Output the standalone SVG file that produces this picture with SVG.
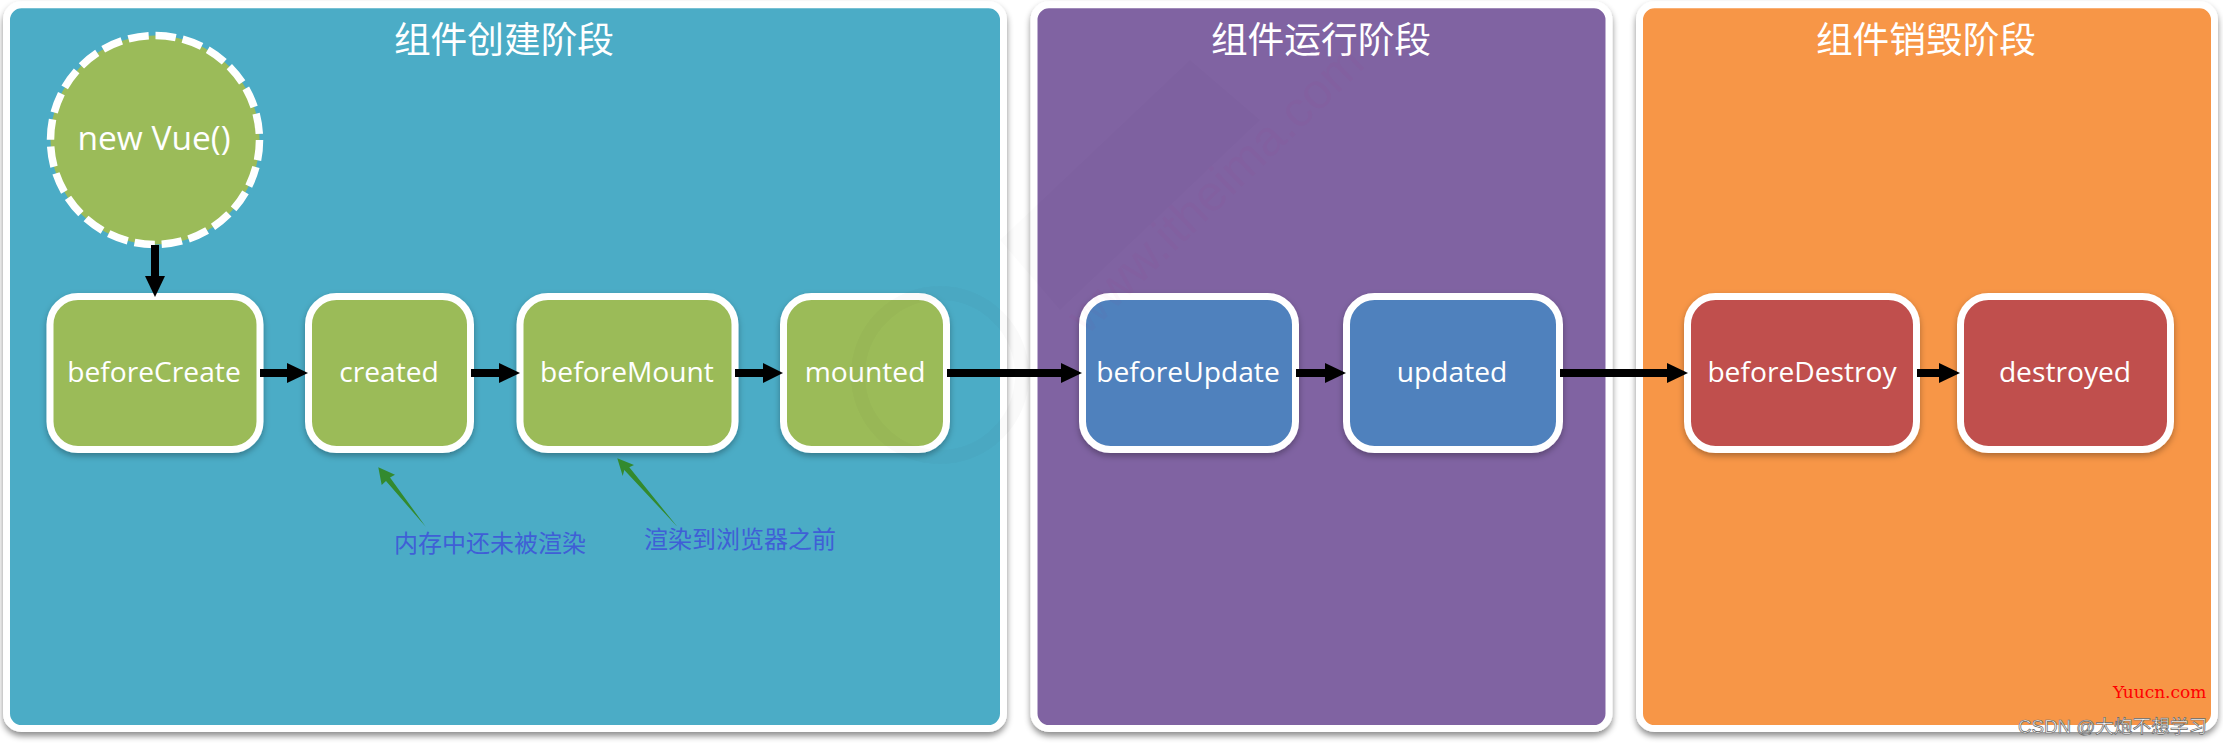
<svg xmlns="http://www.w3.org/2000/svg" width="2223" height="747" viewBox="0 0 2223 747">
<style>
.panel{stroke:#fff;stroke-width:7;filter:url(#ps)}
.node{stroke:#fff;stroke-width:7;filter:url(#ns)}
.t{font-family:"Open Sans","Noto Sans",sans-serif;font-size:28.200px;fill:#fff;text-anchor:middle}
.title{font-family:"Noto Sans CJK SC",sans-serif;font-size:36.700px;fill:#fff;text-anchor:middle}
.note{font-family:"Noto Sans CJK SC",sans-serif;font-size:24px;fill:#3f5fd6}
.g{fill:#9bbb59}.b{fill:#4f81bd}.r{fill:#c0504d}
.c{stroke:#000;stroke-width:8;fill:none}
.h{fill:#000}
.ga{fill:#338a2e}
</style>
<defs>
<filter id="ps" x="-3%" y="-3%" width="106%" height="106%"><feDropShadow dx="0" dy="4" stdDeviation="3" flood-color="#000" flood-opacity=".45"/></filter>
<filter id="ns" x="-10%" y="-10%" width="120%" height="120%"><feDropShadow dx="0" dy="3" stdDeviation="3" flood-color="#000" flood-opacity=".3"/></filter>
</defs>
<rect width="2223" height="747" fill="#fff"/>
<g id="panel-create"><rect class="panel" x="6.500" y="4.800" width="997" height="723.700" rx="15" fill="#4bacc6"/><text class="title" x="504" y="53">组件创建阶段</text></g>
<g id="panel-run"><rect class="panel" x="1034" y="4.800" width="575" height="723.700" rx="15" fill="#8064a2"/><text class="title" x="1321" y="53">组件运行阶段</text></g>
<g id="panel-destroy"><rect class="panel" x="1639.500" y="4.800" width="575" height="723.700" rx="15" fill="#f79646"/><text class="title" x="1926" y="53">组件销毁阶段</text></g>
<g id="new-vue"><circle cx="155" cy="140" r="104.500" fill="#9bbb59" stroke="#fff" stroke-width="7.500" stroke-dasharray="20.400 6.960"/><text class="t" x="154" y="150" style="font-size:33.500px">new Vue()</text></g>
<g id="beforeCreate"><rect class="node g" x="50" y="296.500" width="210" height="153" rx="28"/><text class="t" x="154" y="382">beforeCreate</text></g>
<g id="created"><rect class="node g" x="308.500" y="296.500" width="162" height="153" rx="28"/><text class="t" x="389" y="382">created</text></g>
<g id="beforeMount"><rect class="node g" x="520" y="296.500" width="215" height="153" rx="28"/><text class="t" x="627" y="382">beforeMount</text></g>
<g id="mounted"><rect class="node g" x="783.500" y="296.500" width="163" height="153" rx="28"/><text class="t" x="865" y="382">mounted</text></g>
<g id="beforeUpdate"><rect class="node b" x="1082.500" y="296.500" width="213" height="153" rx="28"/><text class="t" x="1188" y="382">beforeUpdate</text></g>
<g id="updated"><rect class="node b" x="1346.500" y="296.500" width="213" height="153" rx="28"/><text class="t" x="1452" y="382">updated</text></g>
<g id="beforeDestroy"><rect class="node r" x="1687.500" y="296.500" width="229" height="153" rx="28"/><text class="t" x="1802" y="382">beforeDestroy</text></g>
<g id="destroyed"><rect class="node r" x="1960.500" y="296.500" width="210" height="153" rx="28"/><text class="t" x="2065" y="382">destroyed</text></g>
<g id="connectors">
<path class="c" d="M155 245V278"/><path class="h" d="M145 276H165L155 297Z"/>
<path class="c" d="M260 373H290"/><path class="h" d="M287 363V383L308 373Z"/>
<path class="c" d="M471 373H502"/><path class="h" d="M499 363V383L520 373Z"/>
<path class="c" d="M735 373H766"/><path class="h" d="M763 363V383L783 373Z"/>
<path class="c" d="M947 373H1064"/><path class="h" d="M1061 363V383L1082 373Z"/>
<path class="c" d="M1296 373H1328"/><path class="h" d="M1325 363V383L1346 373Z"/>
<path class="c" d="M1560 373H1672"/><path class="h" d="M1667 363V383L1688 373Z"/>
<path class="c" d="M1917 373H1942"/><path class="h" d="M1939 363V383L1960 373Z"/>
<path class="ga" d="M378.300 467.300L395 474.700L390 477.500L425.700 526.700L386 481L381.700 485Z"/>
<path class="ga" d="M617.300 458.300L634 465L629.300 467.300L677.300 526.700L624.300 470L622.700 476Z"/>
</g>
<text class="note" x="394" y="552">内存中还未被渲染</text>
<text class="note" x="644" y="548">渲染到浏览器之前</text>
<g id="watermark" opacity=".025">
<circle cx="940" cy="375" r="82" fill="none" stroke="#333" stroke-width="14"/>
<path d="M1000 240L1190 60L1260 120L1060 310Z" fill="#222" opacity=".5"/>
<text x="1087" y="336" transform="rotate(-44 1087 336)" font-family="'Liberation Sans',sans-serif" font-size="50" fill="#d01060">www.itheima.com</text>
</g>
<text x="2113" y="698" font-family="'DejaVu Serif',serif" font-size="17" fill="#f00">Yuucn.com</text>
<text x="2018" y="733" font-family="'Liberation Sans','Noto Sans CJK SC',sans-serif" font-size="18.700" fill="#fff" stroke="#666" stroke-width=".7">CSDN @大炮不想学习</text>
</svg>
